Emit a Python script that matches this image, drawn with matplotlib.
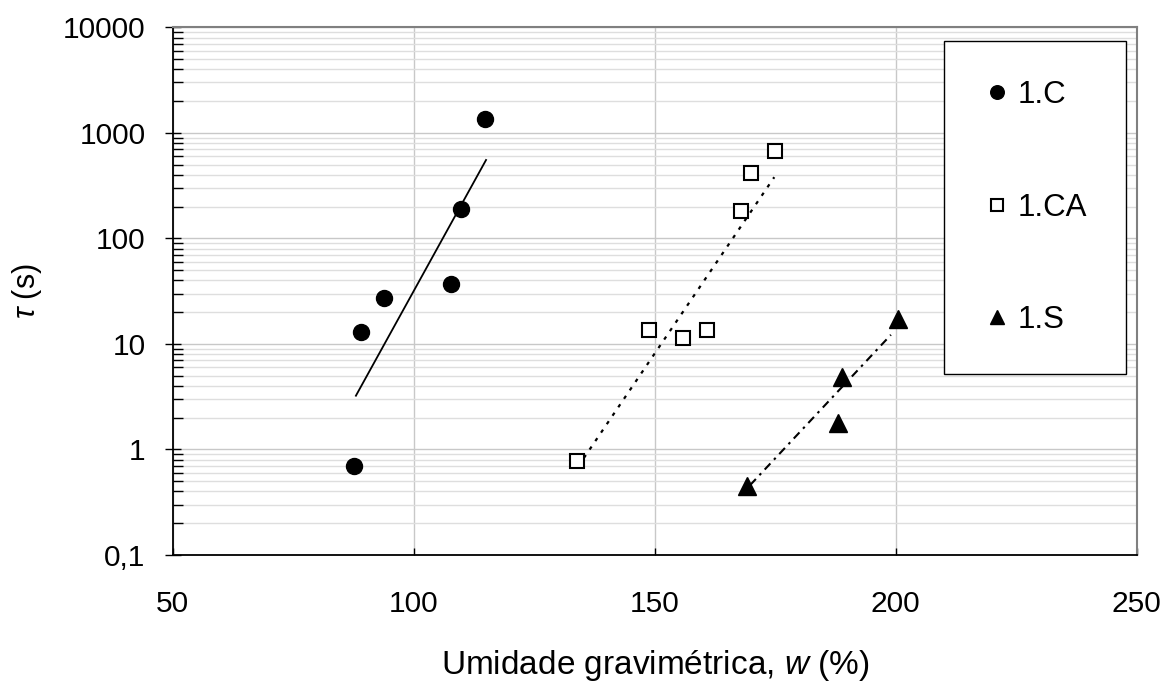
import matplotlib
matplotlib.use("Agg")
import matplotlib.pyplot as plt
from matplotlib.ticker import FixedLocator, LogLocator, NullFormatter

plt.rcParams['font.family'] = ['Liberation Sans', 'DejaVu Sans']
plt.rcParams['mathtext.fontset'] = 'custom'
plt.rcParams['mathtext.rm'] = 'Liberation Sans'
plt.rcParams['mathtext.it'] = 'Liberation Sans:italic'

# ---- data ----
series_names = ["1.C", "1.CA", "1.S"]

w_C = [87.7, 89.0, 93.9, 107.7, 109.8, 114.8]
tau_C = [0.69, 13.0, 27.2, 36.8, 190, 1346]

w_CA = [133.9, 148.8, 155.9, 160.9, 167.9, 170.0, 175.0]
tau_CA = [0.78, 13.6, 11.4, 13.6, 183, 417, 675]

w_S = [169.1, 188.1, 188.9, 200.5]
tau_S = [0.447, 1.78, 4.85, 17.2]

# exponential trend lines (end points)
trend_C_w = [88.0, 115.0]
trend_C_tau = [3.23, 553]
trend_CA_w = [134.1, 174.8]
trend_CA_tau = [0.69, 380]
trend_S_w = [169.8, 199.0]
trend_S_tau = [0.46, 12.2]

x_ticks = [50, 100, 150, 200, 250]
y_ticks = [0.1, 1, 10, 100, 1000, 10000]
y_tick_labels = ["0,1", "1", "10", "100", "1000", "10000"]

# ---- figure ----
fig = plt.figure(figsize=(11.72, 6.82), dpi=100)
ax = fig.add_axes([0.1474, 0.1862, 0.8225, 0.7738])

ax.set_yscale('log')
ax.set_xlim(50, 250)
ax.set_ylim(0.1, 10000)

# grid
ax.xaxis.set_major_locator(FixedLocator(x_ticks))
ax.yaxis.set_major_locator(FixedLocator(y_ticks))
ax.yaxis.set_minor_locator(LogLocator(base=10, subs=range(2, 10), numticks=20))
ax.yaxis.set_minor_formatter(NullFormatter())
ax.set_yticklabels(y_tick_labels)
ax.grid(True, which='major', axis='both', color='#c8c8c8', linewidth=1.0)
ax.grid(True, which='minor', axis='y', color='#dedede', linewidth=1.0)
ax.set_axisbelow(True)

# trend lines
ax.plot(trend_C_w, trend_C_tau, color='black', linewidth=1.3, linestyle='-', zorder=3)
ax.plot(trend_CA_w, trend_CA_tau, color='black', linewidth=1.6, linestyle=(0, (1.6, 3.0)), zorder=3)
ax.plot(trend_S_w, trend_S_tau, color='black', linewidth=1.5, linestyle=(0, (4, 2.5, 1.2, 2.5)), zorder=3)

# markers
ax.plot(w_C, tau_C, linestyle='none', marker='o', markersize=11.5,
        markerfacecolor='black', markeredgecolor='black', label=series_names[0], zorder=4)
ax.plot(w_CA, tau_CA, linestyle='none', marker='s', markersize=10.5,
        markerfacecolor='white', markeredgecolor='black', markeredgewidth=1.5,
        label=series_names[1], zorder=4)
ax.plot(w_S, tau_S, linestyle='none', marker='^', markersize=12.5,
        markerfacecolor='black', markeredgecolor='black', label=series_names[2], zorder=4)

# spines
for s in ['left', 'bottom']:
    ax.spines[s].set_color('black')
    ax.spines[s].set_linewidth(1.3)
for s in ['top', 'right']:
    ax.spines[s].set_color('#808080')
    ax.spines[s].set_linewidth(1.5)

ax.tick_params(axis='x', which='major', direction='in', length=5, width=1,
               labelsize=21.5, pad=25, color='black')
ax.tick_params(axis='y', which='major', direction='inout', length=11, width=1,
               labelsize=21.5, pad=14, color='black')
ax.tick_params(axis='y', which='minor', direction='in', length=7, width=1, color='black')

ax.set_xlabel(r'Umidade gravimétrica, $\mathit{w}$ (%)', fontsize=24)
ax.xaxis.label.set_va('center')
ax.xaxis.set_label_coords(0.5, -0.2085)
ax.set_ylabel(r'$\tau$ (s)', fontsize=22)
ax.yaxis.label.set_va('center')
ax.yaxis.set_label_coords(-0.151, 0.5)

leg = ax.legend(loc='upper left', bbox_to_anchor=(0.800, 0.9746), borderaxespad=0,
                fontsize=22.5, frameon=True, fancybox=False, edgecolor='black',
                framealpha=1, labelspacing=2.65, borderpad=1.25,
                handlelength=0.9, handletextpad=0.2, markerscale=0.85)
leg.get_frame().set_linewidth(1.0)

fig.savefig('out.png', dpi=100)
